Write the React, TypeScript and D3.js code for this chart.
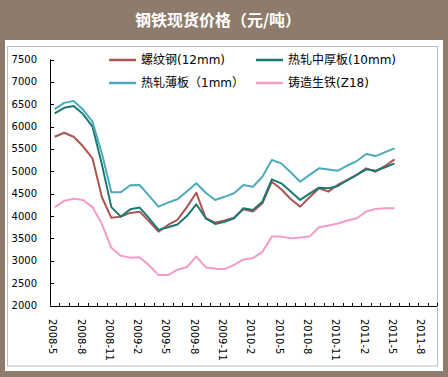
import React from "react";
import * as d3 from "d3";

const categories = [
  "2008-5","2008-6","2008-7","2008-8","2008-9","2008-10","2008-11","2008-12",
  "2009-1","2009-2","2009-3","2009-4","2009-5","2009-6","2009-7","2009-8","2009-9","2009-10","2009-11","2009-12",
  "2010-1","2010-2","2010-3","2010-4","2010-5","2010-6","2010-7","2010-8","2010-9","2010-10","2010-11","2010-12",
  "2011-1","2011-2","2011-3","2011-4","2011-5","2011-6","2011-7","2011-8","2011-9",
];
const tickLabels = ["2008-5","2008-8","2008-11","2009-2","2009-5","2009-8","2009-11","2010-2","2010-5","2010-8","2010-11","2011-2","2011-5","2011-8"];
const yTicks = [2000, 2500, 3000, 3500, 4000, 4500, 5000, 5500, 6000, 6500, 7000, 7500];

const rebar = [5772,5862,5772,5560,5290,4420,3960,3987,4070,4098,3880,3652,3800,3913,4200,4522,3950,3853,3900,3965,4152,4100,4286,4768,4600,4380,4210,4420,4620,4545,4700,4806,4920,5067,4991,5120,5268];
const plate = [6295,6420,6458,6280,6000,5150,4200,3987,4150,4190,3950,3690,3750,3810,4000,4263,3950,3824,3870,3950,4174,4136,4321,4821,4732,4550,4360,4500,4634,4620,4672,4800,4920,5045,5013,5090,5178];
const sheet = [6390,6530,6570,6380,6110,5400,4531,4531,4690,4694,4450,4210,4300,4375,4550,4732,4520,4360,4430,4509,4694,4656,4879,5252,5178,4980,4768,4920,5067,5040,5013,5130,5230,5386,5341,5430,5513];
const pigIron = [4196,4340,4388,4360,4200,3820,3290,3110,3070,3080,2900,2680,2680,2800,2860,3094,2857,2820,2815,2910,3030,3058,3200,3540,3540,3505,3520,3540,3750,3790,3835,3900,3951,4100,4160,4174,4174];

const seriesNames = ["螺纹钢(12mm)", "热轧中厚板(10mm)", "热轧薄板（1mm）", "铸造生铁(Z18)"];
const seriesColors = ["#AC5450", "#1B7873", "#4EA9BA", "#F29CC8"];
const seriesData = [rebar, plate, sheet, pigIron];

const W = 448, H = 377;
const FONT = "'DejaVu Sans', 'Noto Sans CJK SC', sans-serif";

export default function App() {
  const x = d3.scaleBand().domain(categories).range([50, 437]).paddingInner(0).paddingOuter(0);
  const bw = x.bandwidth();
  const y = d3.scaleLinear().domain([2000, 7500]).range([305.5, 59.5]);
  const cx = (c: string) => (x(c) as number) + bw / 2;

  const line = d3.line<number>()
    .x((_, i) => cx(categories[i]))
    .y((v) => y(v));

  const legendPos = [
    [109, 60], [256, 60], [109, 83], [256, 83],
  ];

  return (
    <svg width={W} height={H} style={{ position: "absolute", left: 0, top: 0 }}>
      <rect x={0} y={0} width={W} height={H} fill="#8E7B6C" />
      <rect x={5} y={40} width={438} height={331} fill="#ffffff" />
      <rect x={7.5} y={46.5} width={430} height={319.5} fill="#ffffff" stroke="#BDBDBD" strokeWidth={1} />
      <text x={218} y={26} textAnchor="middle" fill="#ffffff" fontSize={16} fontWeight="bold"
        fontFamily="'Noto Sans CJK SC', sans-serif">钢铁现货价格（元/吨）</text>

      {/* y axis */}
      <line x1={50.5} x2={50.5} y1={y(7500)} y2={y(2000)} stroke="#000" strokeWidth={1} />
      {yTicks.map((t) => (
        <g key={t}>
          <line x1={50.5} x2={54} y1={Math.round(y(t)) + 0.5} y2={Math.round(y(t)) + 0.5} stroke="#000" />
          <text x={37} y={y(t)} textAnchor="end" dominantBaseline="central" fontSize={10} fontFamily={FONT} fill="#000">{t}</text>
        </g>
      ))}

      {/* x axis */}
      <line x1={50} x2={437} y1={Math.round(y(2000)) + 0.5} y2={Math.round(y(2000)) + 0.5} stroke="#000" />
      {categories.map((c) => {
        const xe = Math.round((x(c) as number) + bw) + 0.5;
        return <line key={c} x1={xe} x2={xe} y1={Math.round(y(2000))} y2={Math.round(y(2000)) - 3} stroke="#000" />;
      })}
      {tickLabels.map((c) => (
        <text key={c} transform={`translate(${cx(c) - 2},319) rotate(90)`} textAnchor="start" dominantBaseline="central"
          fontSize={10} fontFamily={FONT} fill="#000">{c}</text>
      ))}

      {/* lines */}
      {seriesData.map((s, i) => (
        <path key={i} d={line(s) as string} fill="none" stroke={seriesColors[i]} strokeWidth={2} strokeLinejoin="round" />
      ))}

      {/* legend */}
      {seriesNames.map((n, i) => (
        <g key={n}>
          <line x1={legendPos[i][0]} x2={legendPos[i][0] + 27} y1={legendPos[i][1]} y2={legendPos[i][1]} stroke={seriesColors[i]} strokeWidth={2.5} />
          <text x={legendPos[i][0] + 32} y={legendPos[i][1]} dominantBaseline="central" fontSize={12} fontFamily={FONT} fill="#000">{n}</text>
        </g>
      ))}
    </svg>
  );
}
